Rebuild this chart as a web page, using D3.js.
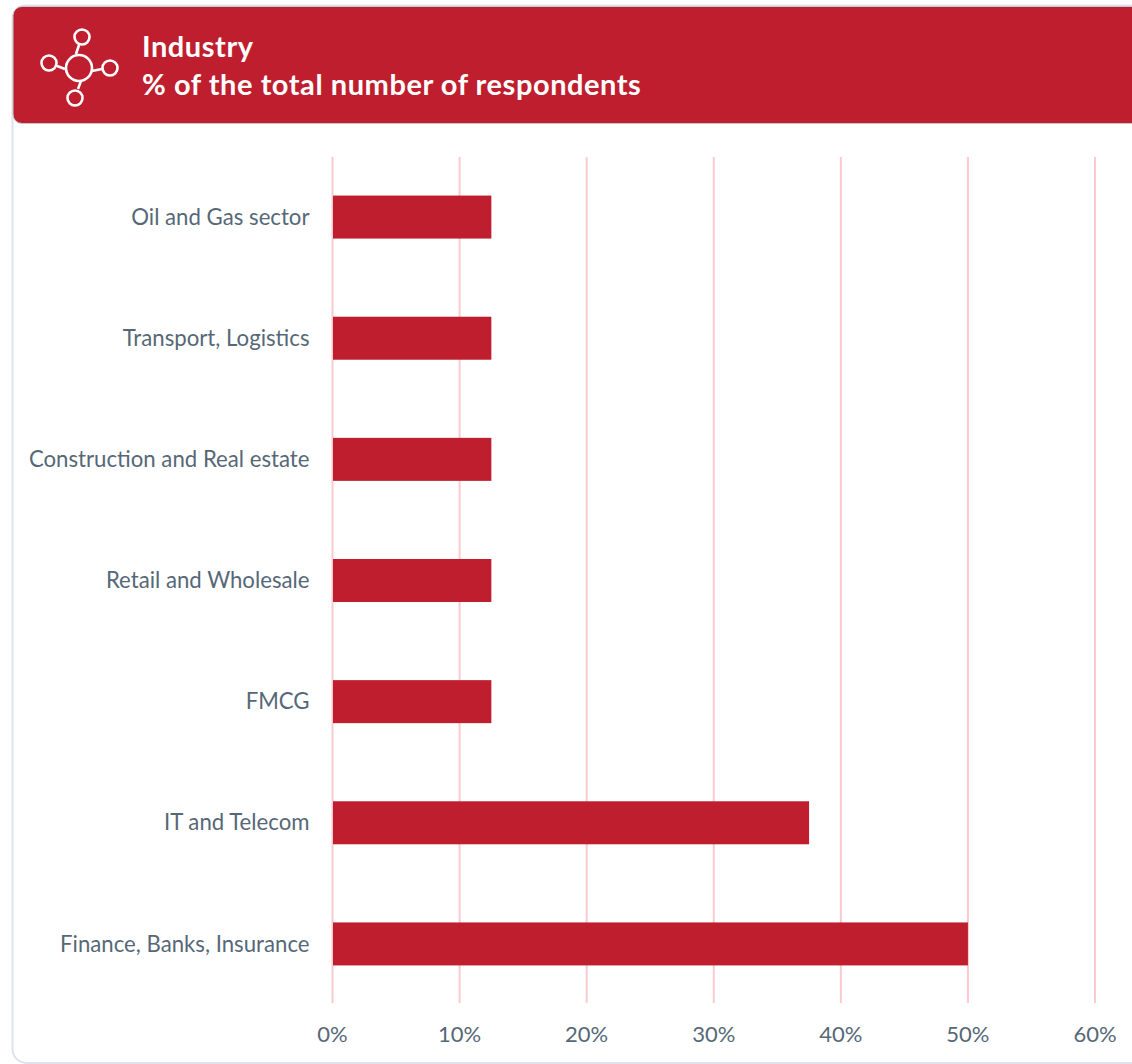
<!DOCTYPE html>
<html>
<head>
<script src="https://d3js.org/d3.v7.min.js"></script>
<style>
  html, body { margin: 0; padding: 0; background: #fff; overflow: hidden; }
  svg { display: block; }
  text { font-family: Lato, "Open Sans", sans-serif; }
</style>
</head>
<body>
<svg id="chart"></svg>
<script>
var categories = ["Oil and Gas sector", "Transport, Logistics", "Construction and Real estate",
  "Retail and Wholesale", "FMCG", "IT and Telecom", "Finance, Banks, Insurance"];
var values = [12.5, 12.5, 12.5, 12.5, 12.5, 37.5, 50];
var xTicks = [0, 10, 20, 30, 40, 50, 60];
var titleLines = ["Industry", "% of the total number of respondents"];

var W = 1132, H = 1064;
var red = "#be1e2d", grid = "#fbc9cf", labelColor = "#566878", border = "#dde3ea";

var svg = d3.select("#chart").attr("width", W).attr("height", H);

// card outline, runs off the right and bottom of the picture
svg.append("rect")
  .attr("x", 12.5).attr("y", 5.5)
  .attr("width", W + 40).attr("height", H - 5.5 - 1)
  .attr("rx", 14)
  .attr("fill", "#fff")
  .attr("stroke", border)
  .attr("stroke-width", 2);

// header
svg.append("path")
  .attr("d", "M" + (W + 5) + ",6.5H22a9,9 0 0 0 -9,9V114a9,9 0 0 0 9,9.5H" + (W + 5) + "Z")
  .attr("fill", red)
  .attr("stroke", "#c4c9d1")
  .attr("stroke-width", 1);

svg.selectAll(".title")
  .data(titleLines)
  .enter().append("text")
  .attr("class", "title")
  .attr("x", 142)
  .attr("y", function(d, i) { return 57 + i * 38; })
  .attr("fill", "#fff")
  .attr("font-size", 29)
  .attr("letter-spacing", 0.55)
  .attr("font-weight", 700)
  .text(function(d) { return d; });

// network icon
var icon = svg.append("g").attr("fill", "none").attr("stroke", "#fff").attr("stroke-width", 2.6);
icon.append("circle").attr("cx", 79).attr("cy", 68).attr("r", 13);
var nodes = [[82, 37], [49, 63], [110, 68], [75, 98]];
var spokes = [[76, 54, 79, 45], [65, 69, 57, 66], [92, 71, 102, 69], [81, 81, 78, 89]];
icon.selectAll(".node").data(nodes).enter().append("circle")
  .attr("class", "node")
  .attr("cx", function(d) { return d[0]; })
  .attr("cy", function(d) { return d[1]; })
  .attr("r", 7.5);
icon.selectAll(".spoke").data(spokes).enter().append("line")
  .attr("class", "spoke")
  .attr("x1", function(d) { return d[0]; })
  .attr("y1", function(d) { return d[1]; })
  .attr("x2", function(d) { return d[2]; })
  .attr("y2", function(d) { return d[3]; });

// scales
var x = d3.scaleLinear().domain([0, 60]).range([332.5, 1095]);
var y = d3.scaleBand().domain(categories).range([156.5, 1004.5])
  .paddingInner(0.645).paddingOuter(0.3225);

// gridlines and x labels
var xAxis = d3.axisBottom(x)
  .tickValues(xTicks)
  .tickFormat(function(d) { return d + "%"; })
  .tickSize(-(1003 - 157))
  .tickPadding(23)
  .offset(0);

svg.append("g")
  .attr("transform", "translate(0,1003)")
  .call(xAxis)
  .call(function(g) {
    g.select(".domain").remove();
    g.selectAll("line").attr("stroke", grid).attr("stroke-width", 2);
    g.selectAll("text").attr("fill", labelColor).attr("font-size", 22)
      .attr("font-family", "Lato, 'Open Sans', sans-serif");
  });

// bars
svg.selectAll(".bar")
  .data(values)
  .enter().append("rect")
  .attr("class", "bar")
  .attr("x", x(0) + 0.5)
  .attr("y", function(d, i) { return y(categories[i]); })
  .attr("width", function(d) { return x(d) - x(0) - 0.5; })
  .attr("height", y.bandwidth())
  .attr("fill", red);

// category labels
var yAxis = d3.axisLeft(y).tickSize(0).tickPadding(23);
svg.append("g")
  .attr("transform", "translate(" + x(0) + ",0.5)")
  .call(yAxis)
  .call(function(g) {
    g.select(".domain").remove();
    g.selectAll("text").attr("fill", labelColor).attr("font-size", 22.2)
      .attr("font-family", "Lato, 'Open Sans', sans-serif");
  });
</script>
</body>
</html>
